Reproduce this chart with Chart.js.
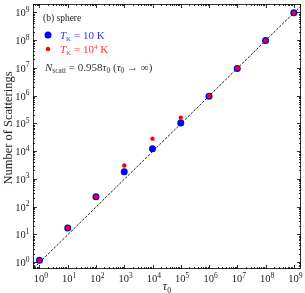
<!DOCTYPE html>
<html>
<head>
<meta charset="utf-8">
<script src="https://cdn.jsdelivr.net/npm/chart.js@4"></script>
<style>
  html, body { margin:0; padding:0; background:#fff; }
  #wrap { width:305px; height:293px; }
</style>
</head>
<body>
<div id="wrap"><canvas id="c" width="305" height="293"></canvas></div>
<script>
// Данные
const tau0 = [1, 10, 100, 1e3, 1e4, 1e5, 1e6, 1e7, 1e8, 1e9];
const nScattCold = [1.15, 17, 225, 1800, 12000, 1.02e5, 0.95e6, 0.95e7, 0.96e8, 0.96e9]; // T = 10 K
const nScattHot = [1.15, 17, 225, 3000, 28000, 1.58e5, 0.96e6, 0.96e7, 0.96e8, 0.96e9];  // T = 1e4 K
const fitX = [0.5, 3e9];
const fitY = [0.479, 2.874e9]; // 0.958 * tau0
const tickExp = [0, 1, 2, 3, 4, 5, 6, 7, 8, 9];
const xRange = [0.59, 1.8e9];
const yRange = [0.56, 2.0e9];

const SERIF = '"Liberation Serif", "DejaVu Serif", serif';

// Рисуем кусками текст (индексы, курсив и т.д.)
function drawParts(ctx, x, y, parts, color) {
  ctx.fillStyle = color;
  ctx.textBaseline = 'alphabetic';
  ctx.textAlign = 'left';
  parts.forEach(p => {
    ctx.font = (p.it ? 'italic ' : '') + p.size + 'px ' + SERIF;
    ctx.fillText(p.t, x, y + (p.dy || 0));
    x += ctx.measureText(p.t).width;
  });
  return x;
}
function partsWidth(ctx, parts) {
  let w = 0;
  parts.forEach(p => {
    ctx.font = (p.it ? 'italic ' : '') + p.size + 'px ' + SERIF;
    w += ctx.measureText(p.t).width;
  });
  return w;
}
function pow10(e, size) {
  return [{ t: '10', size: size }, { t: String(e), size: size * 0.72, dy: -size * 0.42 }];
}

// Рамка, тики и подписи как в matplotlib
const axesPlugin = {
  id: 'axesPlugin',
  afterDraw(chart) {
    const ctx = chart.ctx;
    const a = chart.chartArea;
    const xs = chart.scales.x, ys = chart.scales.y;
    ctx.save();
    ctx.strokeStyle = '#000';
    ctx.lineWidth = 0.8;
    ctx.strokeRect(a.left + 0.5, a.top + 0.5, a.right - a.left - 1, a.bottom - a.top - 1);

    ctx.beginPath();
    for (let e = -1; e <= 10; e++) {
      for (let m = 1; m <= 9; m++) {
        const v = m * Math.pow(10, e);
        const len = m === 1 ? 4 : 2;
        if (v >= xRange[0] && v <= xRange[1]) {
          const px = Math.round(xs.getPixelForValue(v)) + 0.5;
          ctx.moveTo(px, a.bottom); ctx.lineTo(px, a.bottom - len);
          ctx.moveTo(px, a.top); ctx.lineTo(px, a.top + len);
        }
        if (v >= yRange[0] && v <= yRange[1]) {
          const py = Math.round(ys.getPixelForValue(v)) + 0.5;
          ctx.moveTo(a.left, py); ctx.lineTo(a.left + len, py);
          ctx.moveTo(a.right, py); ctx.lineTo(a.right - len, py);
        }
      }
    }
    ctx.stroke();

    // подписи тиков
    tickExp.forEach(e => {
      const v = Math.pow(10, e);
      const parts = pow10(e, 10.5);
      const w = partsWidth(ctx, parts);
      const px = xs.getPixelForValue(v);
      drawParts(ctx, px - w / 2 + 1.5, a.bottom + 13, parts, '#222');
      const py = ys.getPixelForValue(v);
      drawParts(ctx, a.left - 3.5 - w, py + 4, parts, '#222');
    });

    // подписи осей
    const xt = [{ t: 'τ', size: 12, it: true }, { t: '0', size: 8, dy: 2.5 }];
    drawParts(ctx, (a.left + a.right) / 2 - partsWidth(ctx, xt) / 2, 290, xt, '#222');
    ctx.save();
    ctx.translate(12, 128);
    ctx.rotate(-Math.PI / 2);
    ctx.font = '12.5px ' + SERIF;
    ctx.textAlign = 'center';
    ctx.fillStyle = '#222';
    ctx.fillText('Number of Scatterings', 0, 0);
    ctx.restore();

    // легенда
    drawParts(ctx, 43, 21, [{ t: '(b) sphere', size: 9.5 }], '#222');
    ctx.fillStyle = '#0000ff';
    ctx.beginPath(); ctx.arc(48, 35, 3.5, 0, Math.PI * 2); ctx.fill();
    drawParts(ctx, 60, 38.5, [
      { t: 'T', size: 11, it: true }, { t: 'K', size: 7, dy: 2 }, { t: ' = 10 K', size: 11 }
    ], '#3333ff');
    ctx.fillStyle = '#ff0000';
    ctx.beginPath(); ctx.arc(48, 49, 2.2, 0, Math.PI * 2); ctx.fill();
    drawParts(ctx, 60, 52.5, [
      { t: 'T', size: 11, it: true }, { t: 'K', size: 7, dy: 2 }, { t: ' = 10', size: 11 },
      { t: '4', size: 7, dy: -4 }, { t: ' K', size: 11 }
    ], '#ff3333');
    drawParts(ctx, 45, 70.5, [
      { t: 'N', size: 11, it: true }, { t: 'scatt', size: 7.5, dy: 2 }, { t: ' = 0.958', size: 11 },
      { t: 'τ', size: 11, it: true }, { t: '0', size: 7.5, dy: 2 }, { t: ' (', size: 11 },
      { t: 'τ', size: 11, it: true }, { t: '0', size: 7.5, dy: 2 }, { t: ' → ∞)', size: 11 }
    ], '#333');
    ctx.restore();
  }
};

new Chart(document.getElementById('c'), {
  type: 'scatter',
  data: {
    datasets: [
      {
        type: 'line',
        data: fitX.map((x, i) => ({ x: x, y: fitY[i] })),
        borderColor: '#000',
        borderWidth: 0.9,
        borderDash: [2.5, 1.5],
        pointRadius: 0,
        fill: false,
        order: 3
      },
      {
        data: tau0.map((x, i) => ({ x: x, y: nScattCold[i] })),
        backgroundColor: '#0000ff',
        borderWidth: 0,
        pointRadius: 3.5,
        order: 2
      },
      {
        data: tau0.map((x, i) => ({ x: x, y: nScattHot[i] })),
        backgroundColor: '#ff0000',
        borderWidth: 0,
        pointRadius: 2.2,
        order: 1
      }
    ]
  },
  options: {
    responsive: false,
    animation: false,
    layout: { padding: { left: 33, right: 2, top: 1, bottom: 24 } },
    plugins: { legend: { display: false }, tooltip: { enabled: false } },
    scales: {
      x: { type: 'logarithmic', min: xRange[0], max: xRange[1], display: false },
      y: { type: 'logarithmic', min: yRange[0], max: yRange[1], display: false }
    }
  },
  plugins: [axesPlugin]
});
</script>
</body>
</html>
